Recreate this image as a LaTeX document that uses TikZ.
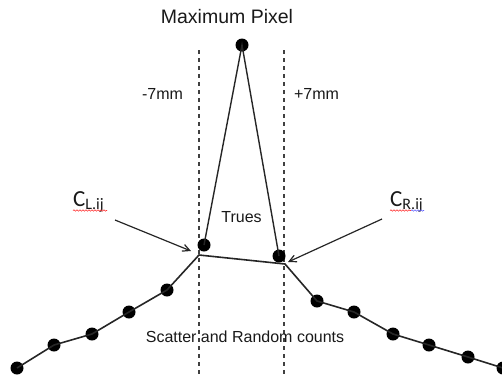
\documentclass[tikz,border=0pt]{standalone}
\usepackage{fontspec}
\setmainfont{Liberation Sans}
\newfontfamily\calib{Carlito}
\usetikzlibrary{arrows.meta,decorations.pathmorphing}
\begin{document}
\begin{tikzpicture}[x=1pt,y=-1pt,
  dot/.style={circle,fill=black,inner sep=0pt,minimum size=13pt},
  curve/.style={line width=1.6pt,black!85},
  guide/.style={line width=1.2pt,dash pattern=on 4pt off 4pt,black!75},
  pointer/.style={line width=1.2pt,black!85,-{Straight Barb[length=7pt,width=7pt]}},
  lbl/.style={font=\fontsize{16}{18}\selectfont,inner sep=0pt,text=black!90},
  clab/.style={font=\calib\fontsize{23}{26}\selectfont,inner sep=0pt,anchor=base west,text=black!90},
  squig/.style={line width=0.6pt,decorate,decoration={snake,amplitude=0.7pt,segment length=3pt}}]
\useasboundingbox (0,0) rectangle (502,376);
% dashed guides
\coordinate (g1t) at (199,50); \coordinate (g1b) at (199,376);
\coordinate (g2t) at (284,50); \coordinate (g2b) at (284,376);
\draw[guide] (g1t) -- (g1b);
\draw[guide] (g2t) -- (g2b);
% points
\node[dot] (T) at (242,45) {};
\node[dot] (LD) at (204,245) {};
\node[dot] (RD) at (279,256) {};
\coordinate (cl) at (199,255);
\coordinate (cr) at (285,264);
\node[dot] (L1) at (167,290) {};
\node[dot] (L2) at (129,312) {};
\node[dot] (L3) at (92,334) {};
\node[dot] (L4) at (54,345) {};
\node[dot] (L5) at (17,368) {};
\node[dot] (R1) at (317,301) {};
\node[dot] (R2) at (354,312) {};
\node[dot] (R3) at (393,334) {};
\node[dot] (R4) at (429,345) {};
\node[dot] (R5) at (468,357) {};
\node[dot] (R6) at (503,368) {};
% lines
\draw[line width=1.4pt,black!85] (LD.center) -- (T.center) -- (RD.center);
\draw[curve] (L5.center) -- (L4.center) -- (L3.center) -- (L2.center) -- (L1.center) -- (cl) -- (cr) -- (R1.center) -- (R2.center) -- (R3.center) -- (R4.center) -- (R5.center) -- (R6.center);
% texts
\node[lbl,font=\fontsize{19.5}{22}\selectfont] (title) at (227,16.5) {Maximum Pixel};
\node[lbl] (m7) at (162.5,94) {-7mm};
\node[lbl] (p7) at (316.5,94) {+7mm};
\node[lbl] (tr) at (241.5,217) {Trues};
\node[lbl] (sc) at (245,336.5) {Scatter and Random counts};
% C labels
\node[clab] (CL) at (73,206) {C\raisebox{-3.5pt}{\fontsize{16}{18}\selectfont L.ij}};
\node[clab] (CR) at (390,206) {C\raisebox{-3.5pt}{\fontsize{16}{18}\selectfont R.ij}};
\coordinate (sqL1) at (73,210.5); \coordinate (sqL2) at (107,210.5);
\coordinate (sqR1) at (390,210.5); \coordinate (sqR2) at (411,210.5); \coordinate (sqR3) at (424,210.5);
\draw[squig,red!80] (sqL1) -- (sqL2);
\draw[squig,red!80] (sqR1) -- (sqR2);
\draw[squig,blue!60] (sqR2) -- (sqR3);
% arrows
\coordinate (aLs) at (115,220); \coordinate (aLe) at (191,251);
\coordinate (aRs) at (382,219); \coordinate (aRe) at (288,262);
\draw[pointer] (aLs) -- (aLe);
\draw[pointer] (aRs) -- (aRe);
\end{tikzpicture}
\end{document}
